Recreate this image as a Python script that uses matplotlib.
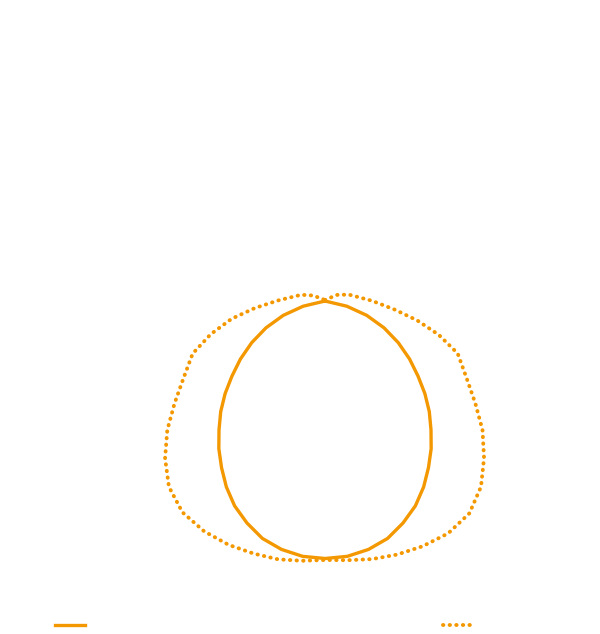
"""
Polar outline chart: solid vs dotted trace, axes hidden
"""

import numpy as np
import matplotlib
matplotlib.use('Agg')
import matplotlib.pyplot as plt

# ---- data (radius per angle, degrees clockwise from north) ----
solid_angles = [0, 10, 20, 30, 40, 50, 60, 70, 80, 90, 100, 110, 120, 130, 140, 150, 160, 170,
                180, 190, 200, 210, 220, 230, 240, 250, 260, 270, 280, 290, 300, 310, 320, 330, 340, 350]
solid_r = [129, 125.7, 122, 118, 114, 110.4, 107.5, 106.3, 105.9, 106, 107.8, 110.1, 113.9, 118,
           121.4, 125.2, 127.1, 128.3, 128.5, 128.3, 127.1, 125.2, 121.4, 118, 113.9, 110.1, 107.8,
           106, 105.9, 106.3, 107.5, 110.4, 114, 118, 122, 125.7]

dotted_angles = [0, 5, 10, 20, 30, 40, 50, 60, 70, 80, 90, 100, 110, 120, 130, 140, 150, 160, 170,
                 180, 190, 200, 210, 220, 230, 240, 250, 260, 270, 280, 290, 300, 310, 320, 330,
                 340, 350, 355]
dotted_r = [130, 135.6, 137.5, 137.5, 139.1, 143.2, 148.3, 153.2, 150.8, 152.7, 157.5, 161.5, 166,
            166.7, 160.8, 151.8, 143.9, 137.4, 132.2, 130, 132.8, 137.6, 142.7, 149.9, 157.7, 164.6,
            166.1, 162.4, 157.7, 152.8, 150.7, 152.8, 149.1, 145.2, 140.7, 137.8, 137.3, 135]

series_labels = ['Series A', 'Series B']
color = '#F39800'


def closed(angles, radii):
    th = np.deg2rad(list(angles) + [angles[0]])
    return th, list(radii) + [radii[0]]


fig = plt.figure(figsize=(6, 6.34), dpi=100)
# polar axes centred at (325, 430) px, radius 200 px
ax = fig.add_axes([125 / 600, 4 / 634, 400 / 600, 400 / 634], projection='polar')
ax.set_theta_zero_location('N')
ax.set_theta_direction(-1)
ax.set_ylim(0, 200)
ax.axis('off')

th, r = closed(solid_angles, solid_r)
l1, = ax.plot(th, r, color=color, lw=2.4, label=series_labels[0])

th, r = closed(dotted_angles, dotted_r)
l2, = ax.plot(th, r, color=color, lw=2.8, linestyle=(0, (0.1, 1.6)),
              dash_capstyle='round', label=series_labels[1])

# legend handles at the bottom, labels are white like the rest of the text
for handle, x in [(l1, 55), (l2, 443)]:
    leg = fig.legend(handles=[handle], loc='center left', bbox_to_anchor=(x / 600, 8 / 634),
                     frameon=False, borderpad=0, borderaxespad=0, handlelength=2.15,
                     fontsize=10)
    for t in leg.get_texts():
        t.set_color('white')

plt.savefig('out.png', dpi=100)
